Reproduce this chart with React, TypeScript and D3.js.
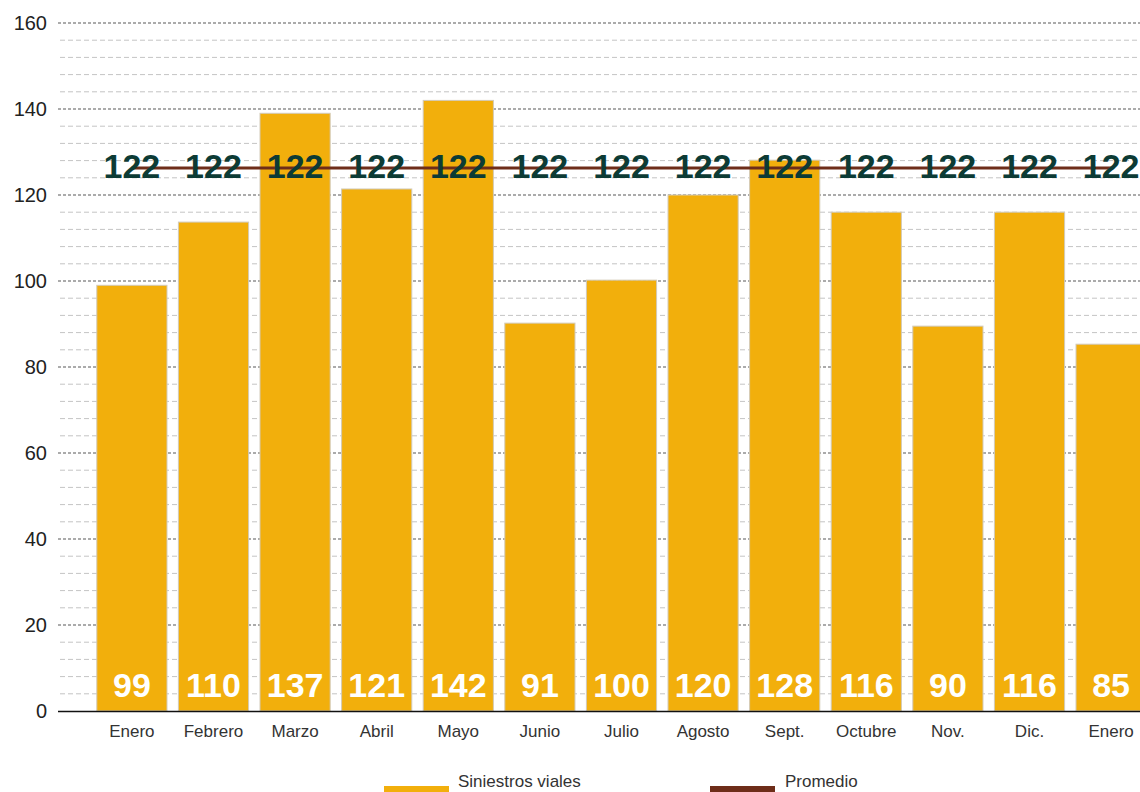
import React from 'react';
import * as d3 from 'd3';

// categories (months)
const months = ['Enero', 'Febrero', 'Marzo', 'Abril', 'Mayo', 'Junio', 'Julio', 'Agosto', 'Sept.', 'Octubre', 'Nov.', 'Dic.', 'Enero'];
// bar heights
const barValues = [99, 113.7, 139, 121.4, 142, 90.2, 100.2, 120, 128.1, 116, 89.5, 116, 85.3];
// labels printed inside the bars
const barLabels = ['99', '110', '137', '121', '142', '91', '100', '120', '128', '116', '90', '116', '85'];
// average line
const avgLevel = 126.3;
const avgLabel = '122';
const yTicks = [0, 20, 40, 60, 80, 100, 120, 140, 160];

const W = 1140;
const H = 792;
const font = '"Liberation Sans", Arial, Helvetica, sans-serif';

const App = () => {
  const y = d3.scaleLinear().domain([0, 160]).range([711, 23]);
  const x = d3.scaleBand<number>()
    .domain(months.map((_, i) => i))
    .range([56, 1187])
    .paddingInner(0.14)
    .paddingOuter(0.5);

  const minor = d3.range(0, 161, 4).filter(v => v % 20 !== 0);
  const cx = (i: number) => (x(i) as number) + x.bandwidth() / 2;
  const avgY = y(avgLevel);

  return (
    <svg width={W} height={H} style={{ position: 'absolute', left: 0, top: 0, background: '#fff' }} fontFamily={font}>
      {/* minor grid */}
      {minor.map(v => (
        <line key={'m' + v} x1={60} x2={W} y1={y(v)} y2={y(v)} stroke="#c4c4c4" strokeWidth={1} strokeDasharray="5,3" />
      ))}
      {/* major grid */}
      {yTicks.filter(v => v > 0).map(v => (
        <line key={'M' + v} x1={58} x2={W} y1={y(v)} y2={y(v)} stroke="#ababab" strokeWidth={2} strokeDasharray="3,2" />
      ))}
      {/* y tick labels */}
      {yTicks.map(v => (
        <text key={'t' + v} x={47} y={y(v) + 7} textAnchor="end" fontSize={20} fill="#222">{v}</text>
      ))}
      {/* bars */}
      {barValues.map((v, i) => (
        <rect key={'b' + i} x={x(i)} y={y(v)} width={x.bandwidth()} height={y(0) - y(v)}
          fill="#f2af0c" stroke="#d2cab8" strokeWidth={1} />
      ))}
      {/* axis line */}
      <line x1={58} x2={W} y1={y(0) + 0.5} y2={y(0) + 0.5} stroke="#111" strokeWidth={1.5} />
      {/* value labels */}
      {barLabels.map((l, i) => (
        <text key={'v' + i} x={cx(i)} y={697} textAnchor="middle" fontSize={34} fontWeight="bold" fill="#fff">{l}</text>
      ))}
      {/* category labels */}
      {months.map((m, i) => (
        <text key={'c' + i} x={cx(i)} y={737} textAnchor="middle" fontSize={17} fill="#333">{m}</text>
      ))}
      {/* average line */}
      <line x1={cx(0)} x2={cx(months.length - 1)} y1={avgY} y2={avgY} stroke="#6e2d19" strokeWidth={3} />
      {months.map((_, i) => (
        <text key={'a' + i} x={cx(i)} y={avgY + 10} textAnchor="middle" fontSize={34} fontWeight="bold" fill="#0c3b35">{avgLabel}</text>
      ))}
      {/* legend */}
      <rect x={384} y={786} width={65} height={8} fill="#f2af0c" />
      <text x={458} y={787} fontSize={17} fill="#333">Siniestros viales</text>
      <rect x={710} y={786} width={65} height={8} fill="#6e2d19" />
      <text x={785} y={787} fontSize={17} fill="#333">Promedio</text>
    </svg>
  );
};

export default App;
